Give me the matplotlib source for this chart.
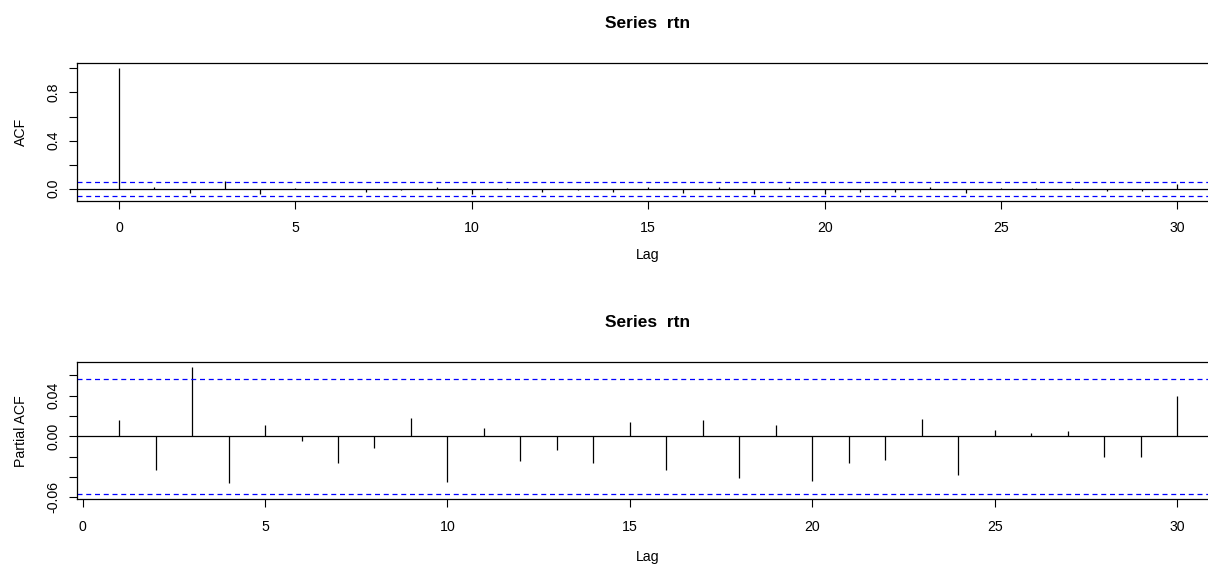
import numpy as np
import matplotlib
matplotlib.use("Agg")
import matplotlib.pyplot as plt

# --- data (series rtn) ---
acf_lags = list(range(0, 31))
acf_vals = [1.0, 0.016, -0.032, 0.068, -0.044, 0.010, -0.005, -0.026, -0.011, 0.019,
            -0.045, 0.009, -0.025, -0.014, -0.026, 0.014, -0.033, 0.016, -0.040, 0.011,
            -0.044, -0.026, -0.023, 0.017, -0.038, 0.006, 0.003, 0.005, -0.020, -0.020,
            0.040]

pacf_lags = list(range(1, 31))
pacf_vals = [0.0158, -0.0336, 0.0688, -0.0464, 0.0112, -0.0046, -0.0263, -0.0115, 0.0184,
             -0.0448, 0.0086, -0.0247, -0.0138, -0.0263, 0.0141, -0.0329, 0.0161, -0.0408,
             0.0112, -0.0438, -0.0260, -0.0230, 0.0168, -0.0382, 0.0063, 0.0033, 0.0053,
             -0.0201, -0.0204, 0.0395]

conf_lim = 0.0566   # 1.96/sqrt(n)

x_ticks = [0, 5, 10, 15, 20, 25, 30]
acf_yticks = [0.0, 0.2, 0.4, 0.6, 0.8, 1.0]
acf_ylabels = ["0.0", "", "0.4", "", "0.8", ""]
pacf_yticks = [-0.06, -0.04, -0.02, 0.0, 0.02, 0.04, 0.06]
pacf_ylabels = ["-0.06", "", "", "0.00", "", "0.04", ""]

W, H = 1208, 569
plt.rcParams['font.family'] = ['Liberation Sans', 'DejaVu Sans']
fig = plt.figure(figsize=(W / 100, H / 100), dpi=100)

TICK_FS = 10.2
TITLE_FS = 12.5


def px_axes(left, top, right, bottom):
    return fig.add_axes([left / W, 1 - bottom / H, (right - left) / W, (bottom - top) / H])


def style(ax, yticks, ylabels, ylabel, title, title_y, lag_y):
    for s in ax.spines.values():
        s.set_linewidth(0.9)
        s.set_color('black')
    ax.set_xticks(x_ticks)
    ax.set_xticklabels([str(t) for t in x_ticks])
    ax.set_yticks(yticks)
    ax.set_yticklabels(ylabels, rotation=90, va='center')
    ax.tick_params(axis='both', direction='out', length=5.8, width=0.8,
                   labelsize=TICK_FS, colors='black')
    ax.tick_params(axis='x', pad=9)
    ax.tick_params(axis='y', pad=6)
    ax.axhline(0, color='black', lw=0.9)
    ax.axhline(conf_lim, color='blue', lw=0.9, dashes=(4, 3))
    ax.axhline(-conf_lim, color='blue', lw=0.9, dashes=(4, 3))
    pos = ax.get_position()
    fig.text(648 / W, 1 - title_y / H, title, ha='center', va='center',
             fontsize=TITLE_FS, fontweight='bold')
    fig.text(648 / W, 1 - lag_y / H, 'Lag', ha='center', va='center', fontsize=TICK_FS)
    fig.text(21 / W, (pos.y0 + pos.y1) / 2, ylabel, ha='center', va='center',
             rotation=90, fontsize=TICK_FS)


# top: ACF
ax1 = px_axes(76.7, 63.3, 1219.7, 200.7)
ax1.vlines(acf_lags, 0, acf_vals, color='black', lw=0.9)
ax1.set_xlim(-1.2, 31.2)
ax1.set_ylim(-0.0989, 1.0423)
style(ax1, acf_yticks, acf_ylabels, 'ACF', 'Series  rtn', 24, 255)

# bottom: PACF
ax2 = px_axes(76.7, 362.3, 1219.7, 499.0)
ax2.vlines(pacf_lags, 0, pacf_vals, color='black', lw=0.9)
ax2.set_xlim(-0.16, 31.16)
ax2.set_ylim(-0.0619, 0.0730)
style(ax2, pacf_yticks, pacf_ylabels, 'Partial ACF', 'Series  rtn', 322.7, 557)

fig.savefig('out.png', dpi=100)
